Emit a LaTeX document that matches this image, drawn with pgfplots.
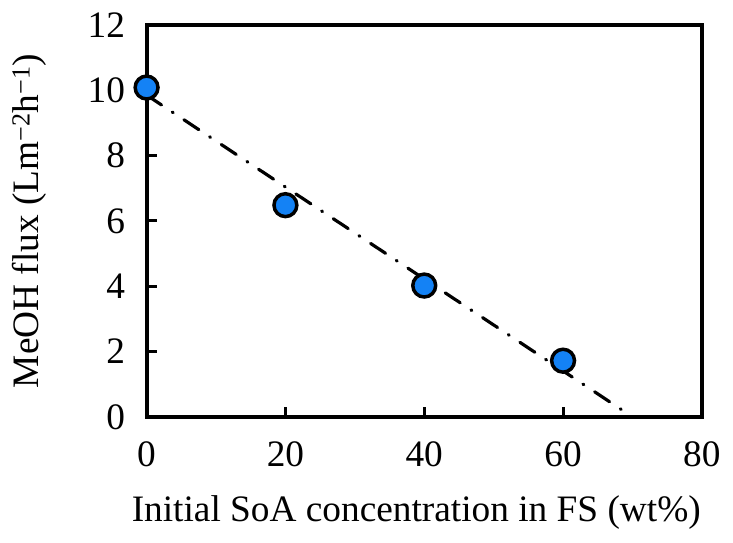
\documentclass[border=0pt]{standalone}
\usepackage{pgfplots}
\pgfplotsset{compat=1.18}
\usepackage{fontspec}
\setmainfont{Liberation Serif}
\definecolor{ptblue}{RGB}{20,130,245}
\definecolor{errblue}{RGB}{0,60,160}
\begin{document}
\fontsize{37.5}{41}\selectfont
\begin{tikzpicture}
\begin{axis}[
  scale only axis,
  width=558pt, height=394pt,
  xmin=0, xmax=80, ymin=0, ymax=12,
  xtick={0,20,40,60,80}, ytick={0,2,4,6,8,10,12},
  xtick pos=left, ytick pos=left,
  tick align=inside,
  major tick length=10pt,
  tick style={line width=3pt, black},
  axis line style={line width=4pt},
  /pgf/number format/assume math mode=true,
  ticklabel style={font=\fontsize{37.5}{41}\selectfont},
  xticklabel style={yshift=-12pt},
  yticklabel style={xshift=-9pt},
  label style={font=\fontsize{37.5}{41}\selectfont},
  xlabel={Initial SoA concentration in FS (wt\%)},
  ylabel={MeOH flux (Lm\textsuperscript{\textminus2}h\textsuperscript{\textminus1})},
  xlabel style={yshift=-4pt, xshift=-8pt},
  ylabel style={yshift=16pt},
  clip=false,
]
\addplot[black, line width=3.2pt, dash pattern=on 18pt off 13pt on 1pt off 13pt, line cap=round] coordinates {(0,9.85) (70,0)};
\addplot[only marks, mark=*, mark size=11.5pt,
  mark options={fill=ptblue, draw=black, line width=3.5pt},
  error bars/.cd, y dir=both, y explicit,
  error bar style={errblue, line width=1.5pt}, error mark options={rotate=90, mark size=3pt, errblue, line width=1.5pt}]
  coordinates {(0,10.08) +- (0,0.1) (20,6.48) +- (0,0.15) (40,4.02) +- (0,0.12) (60,1.72) +- (0,0.08)};
\end{axis}
\end{tikzpicture}
\end{document}
